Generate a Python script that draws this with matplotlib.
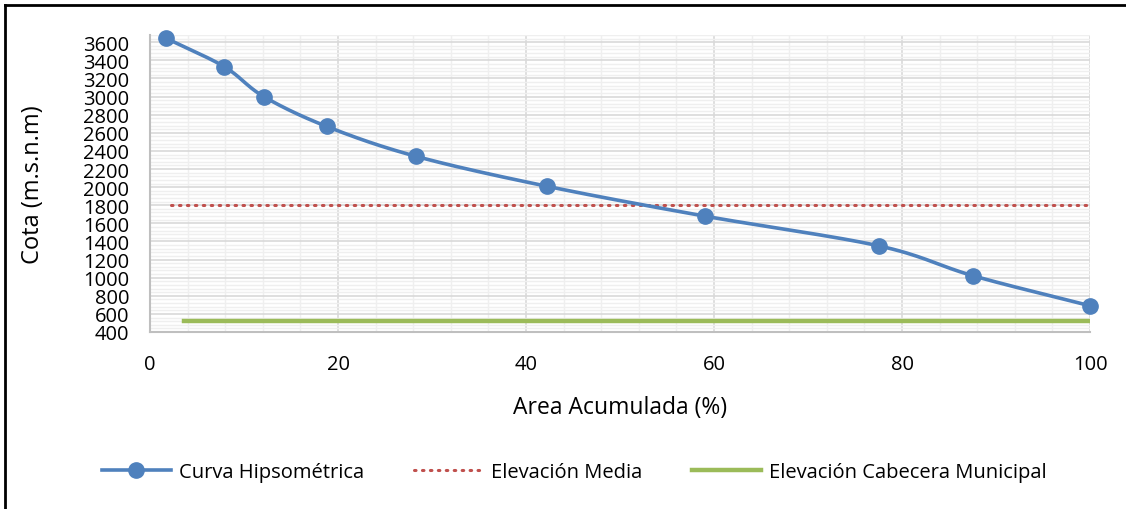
import numpy as np
import matplotlib
matplotlib.use("Agg")
import matplotlib.pyplot as plt
from matplotlib.lines import Line2D

# data
area_acum = [1.7, 7.9, 12.1, 18.8, 28.3, 42.2, 59.0, 77.6, 87.6, 100.0]
cota = [3645, 3330, 3000, 2670, 2340, 2010, 1680, 1350, 1020, 690]
media_x = [2.2, 100]
media_y = [1800, 1800]
cabecera_x = [3.6, 100]
cabecera_y = [525, 525]

blue = "#4f81bd"
red = "#c0504d"
green = "#9bbb59"


def smooth(x, y, n=30):
  # catmull-rom, like excel's smoothed line
  x = np.asarray(x, float)
  y = np.asarray(y, float)
  px = np.concatenate([[2 * x[0] - x[1]], x, [2 * x[-1] - x[-2]]])
  py = np.concatenate([[2 * y[0] - y[1]], y, [2 * y[-1] - y[-2]]])
  xs, ys = [], []
  t = np.linspace(0, 1, n)
  for i in range(1, len(px) - 2):
    for p, out in ((px, xs), (py, ys)):
      p0, p1, p2, p3 = p[i - 1], p[i], p[i + 1], p[i + 2]
      out.extend(0.5 * ((2 * p1) + (-p0 + p2) * t
                        + (2 * p0 - 5 * p1 + 4 * p2 - p3) * t ** 2
                        + (-p0 + 3 * p1 - 3 * p2 + p3) * t ** 3))
  return xs, ys


plt.rcParams['font.family'] = ['Open Sans', 'DejaVu Sans']

fig = plt.figure(figsize=(11.26, 5.1), dpi=100)
ax = fig.add_axes([150 / 1126, 1 - 333 / 510, 940 / 1126, 297 / 510])

sx, sy = smooth(area_acum, cota)
ax.plot(sx, sy, color=blue, lw=2.6, zorder=4)
ax.plot(area_acum, cota, 'o', color=blue, ms=11, zorder=5, clip_on=False)
ax.plot(media_x, media_y, color=red, lw=2.2, linestyle=(0, (0.5, 2.1)),
        dash_capstyle='round', zorder=3)
ax.plot(cabecera_x, cabecera_y, color=green, lw=3.2, zorder=3)

ax.set_xlim(0, 100)
ax.set_ylim(400, 3680)
ax.set_xticks(range(0, 101, 20))
ax.set_xticks(range(0, 101, 4), minor=True)
ax.set_yticks(range(400, 3601, 200))
ax.set_yticks(range(400, 3681, 40), minor=True)
ax.grid(which='major', color='#d9d9d9', lw=1.2)
ax.grid(which='minor', color='#efefef', lw=1)
ax.set_axisbelow(True)
ax.tick_params(which='both', length=0, labelsize=14.5)
ax.tick_params(axis='x', pad=16)
ax.tick_params(axis='y', pad=15)
for s in ['top', 'right']:
  ax.spines[s].set_visible(False)
for s in ['left', 'bottom']:
  ax.spines[s].set_color('#bfbfbf')
  ax.spines[s].set_linewidth(1.5)

ax.set_xlabel('Area Acumulada (%)', fontsize=16.5)
ax.set_ylabel('Cota (m.s.n.m)', fontsize=17)
ax.xaxis.set_label_coords(0.5, -0.213)
ax.yaxis.set_label_coords(-0.112, 0.5)

handles = [
  Line2D([], [], color=blue, lw=2.6, marker='o', ms=11),
  Line2D([], [], color=red, lw=2.2, linestyle=(0, (0.5, 2.1)), dash_capstyle='round'),
  Line2D([], [], color=green, lw=3.2),
]
labels = ['Curva Hipsométrica', 'Elevación Media', 'Elevación Cabecera Municipal']
fig.legend(handles, labels, loc='center', bbox_to_anchor=(0.51, 1 - 473 / 510),
           ncol=3, frameon=False, fontsize=14.5, handlelength=3.4,
           columnspacing=2.5, handletextpad=0.4)

# chart border (top and left visible)
fig.add_artist(Line2D([5 / 1126, 5 / 1126], [0, 1 - 6 / 510], color='black', lw=2,
                      transform=fig.transFigure))
fig.add_artist(Line2D([5 / 1126, 1], [1 - 6 / 510, 1 - 6 / 510], color='black', lw=2,
                      transform=fig.transFigure))

fig.savefig('out.png', dpi=100)
